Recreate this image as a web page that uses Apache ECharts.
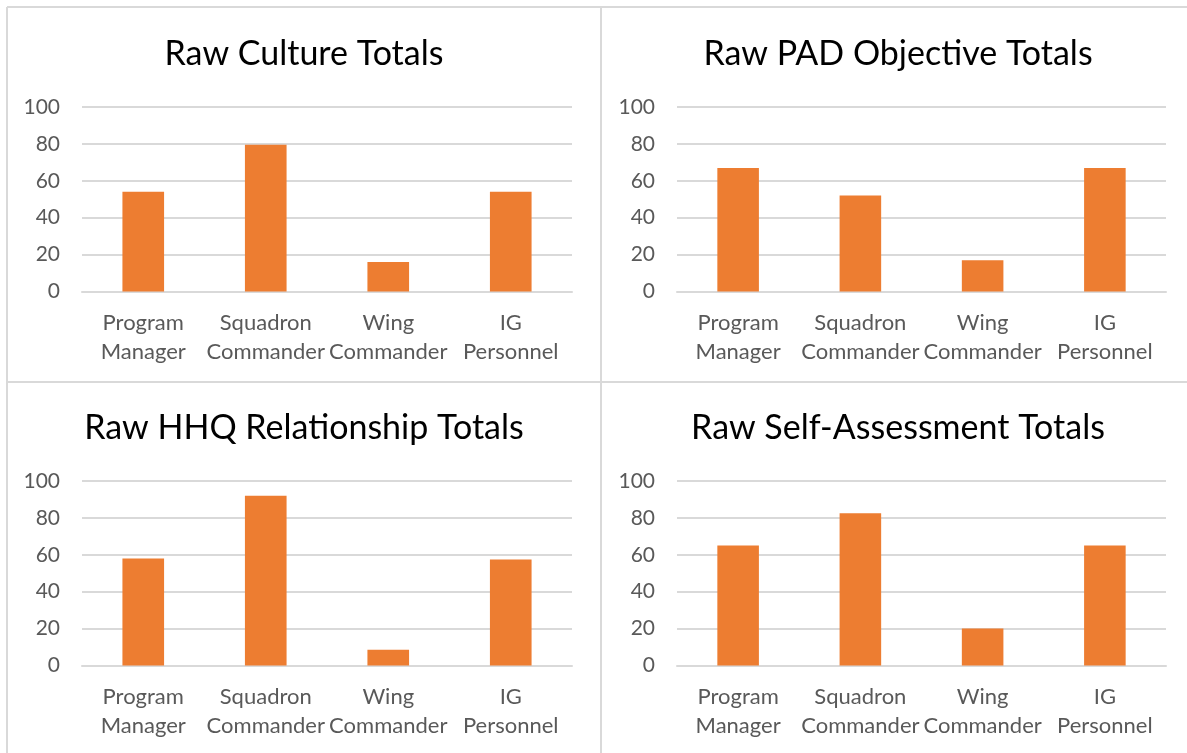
<!DOCTYPE html>
<html>
<head>
<meta charset="utf-8">
<title>Raw Totals</title>
<script src="https://cdn.jsdelivr.net/npm/echarts@6/dist/echarts.min.js"></script>
<style>
    html, body { margin: 0; padding: 0; background: #fff; }
    #main { width: 1187px; height: 753px; }
</style>
</head>
<body>
<div id="main"></div>
<script>
// categories shared by all four panels
var categories = ['Program\nManager', 'Squadron\nCommander', 'Wing\nCommander', 'IG\nPersonnel'];
var titles = ['Raw Culture Totals', 'Raw PAD Objective Totals', 'Raw HHQ Relationship Totals', 'Raw Self-Assessment Totals'];

// values
var cultureTotals = [54, 79.5, 16, 54];
var padObjectiveTotals = [67, 52, 17, 67];
var hhqRelationshipTotals = [58, 92, 8.5, 57.5];
var selfAssessmentTotals = [65, 82.5, 20, 65];

var yTicks = [0, 20, 40, 60, 80, 100];

var allSeries = [cultureTotals, padObjectiveTotals, hhqRelationshipTotals, selfAssessmentTotals];

var chart = echarts.init(document.getElementById('main'));

var fontFamily = 'Lato, "Open Sans", sans-serif';
var lineColor = '#d9d9d9';
var barColor = '#ED7D31';

// panel layout: left col / right col, top row / bottom row
var panels = [
    { left: 82, right: 615, top: 107, titleX: 299, titleY: 32 },
    { left: 677, right: 21, top: 107, titleX: 893, titleY: 32 },
    { left: 82, right: 615, top: 481, titleX: 299, titleY: 406 },
    { left: 677, right: 21, top: 481, titleX: 893, titleY: 406 }
];

var grids = [], xAxes = [], yAxes = [], series = [], titleList = [];

panels.forEach(function (p, i) {
    titleList.push({
        text: titles[i],
        left: p.titleX,
        top: p.titleY,
        textAlign: 'center',
        textStyle: { fontFamily: fontFamily, fontSize: 34, fontWeight: 'normal', color: '#000' }
    });
    grids.push({ left: p.left, right: p.right, top: p.top, height: 184.5 });
    xAxes.push({
        type: 'category',
        gridIndex: i,
        data: categories,
        axisTick: { show: false },
        axisLine: { show: true, lineStyle: { color: lineColor, width: 2 } },
        axisLabel: {
            interval: 0,
            color: '#595959',
            fontFamily: fontFamily,
            fontSize: 22,
            lineHeight: 29,
            margin: 17
        }
    });
    yAxes.push({
        type: 'value',
        gridIndex: i,
        min: yTicks[0],
        max: yTicks[yTicks.length - 1],
        interval: 20,
        axisLine: { show: false },
        axisTick: { show: false },
        splitLine: { lineStyle: { color: lineColor, width: 2 } },
        axisLabel: {
            color: '#595959',
            fontFamily: fontFamily,
            fontSize: 21,
            margin: 22
        }
    });
    series.push({
        type: 'bar',
        xAxisIndex: i,
        yAxisIndex: i,
        data: allSeries[i],
        barCategoryGap: '66%',
        itemStyle: { color: barColor },
        silent: true
    });
});

chart.setOption({
    backgroundColor: '#fff',
    animation: false,
    title: titleList,
    grid: grids,
    xAxis: xAxes,
    yAxis: yAxes,
    series: series,
    graphic: [
        // frame and dividers between the four panels
        { type: 'line', shape: { x1: 7, y1: 7, x2: 1187, y2: 7 }, style: { stroke: lineColor, lineWidth: 2 } },
        { type: 'line', shape: { x1: 7, y1: 7, x2: 7, y2: 753 }, style: { stroke: lineColor, lineWidth: 2 } },
        { type: 'line', shape: { x1: 601, y1: 7, x2: 601, y2: 753 }, style: { stroke: lineColor, lineWidth: 2 } },
        { type: 'line', shape: { x1: 7, y1: 382, x2: 1187, y2: 382 }, style: { stroke: lineColor, lineWidth: 2 } }
    ]
});
</script>
</body>
</html>
